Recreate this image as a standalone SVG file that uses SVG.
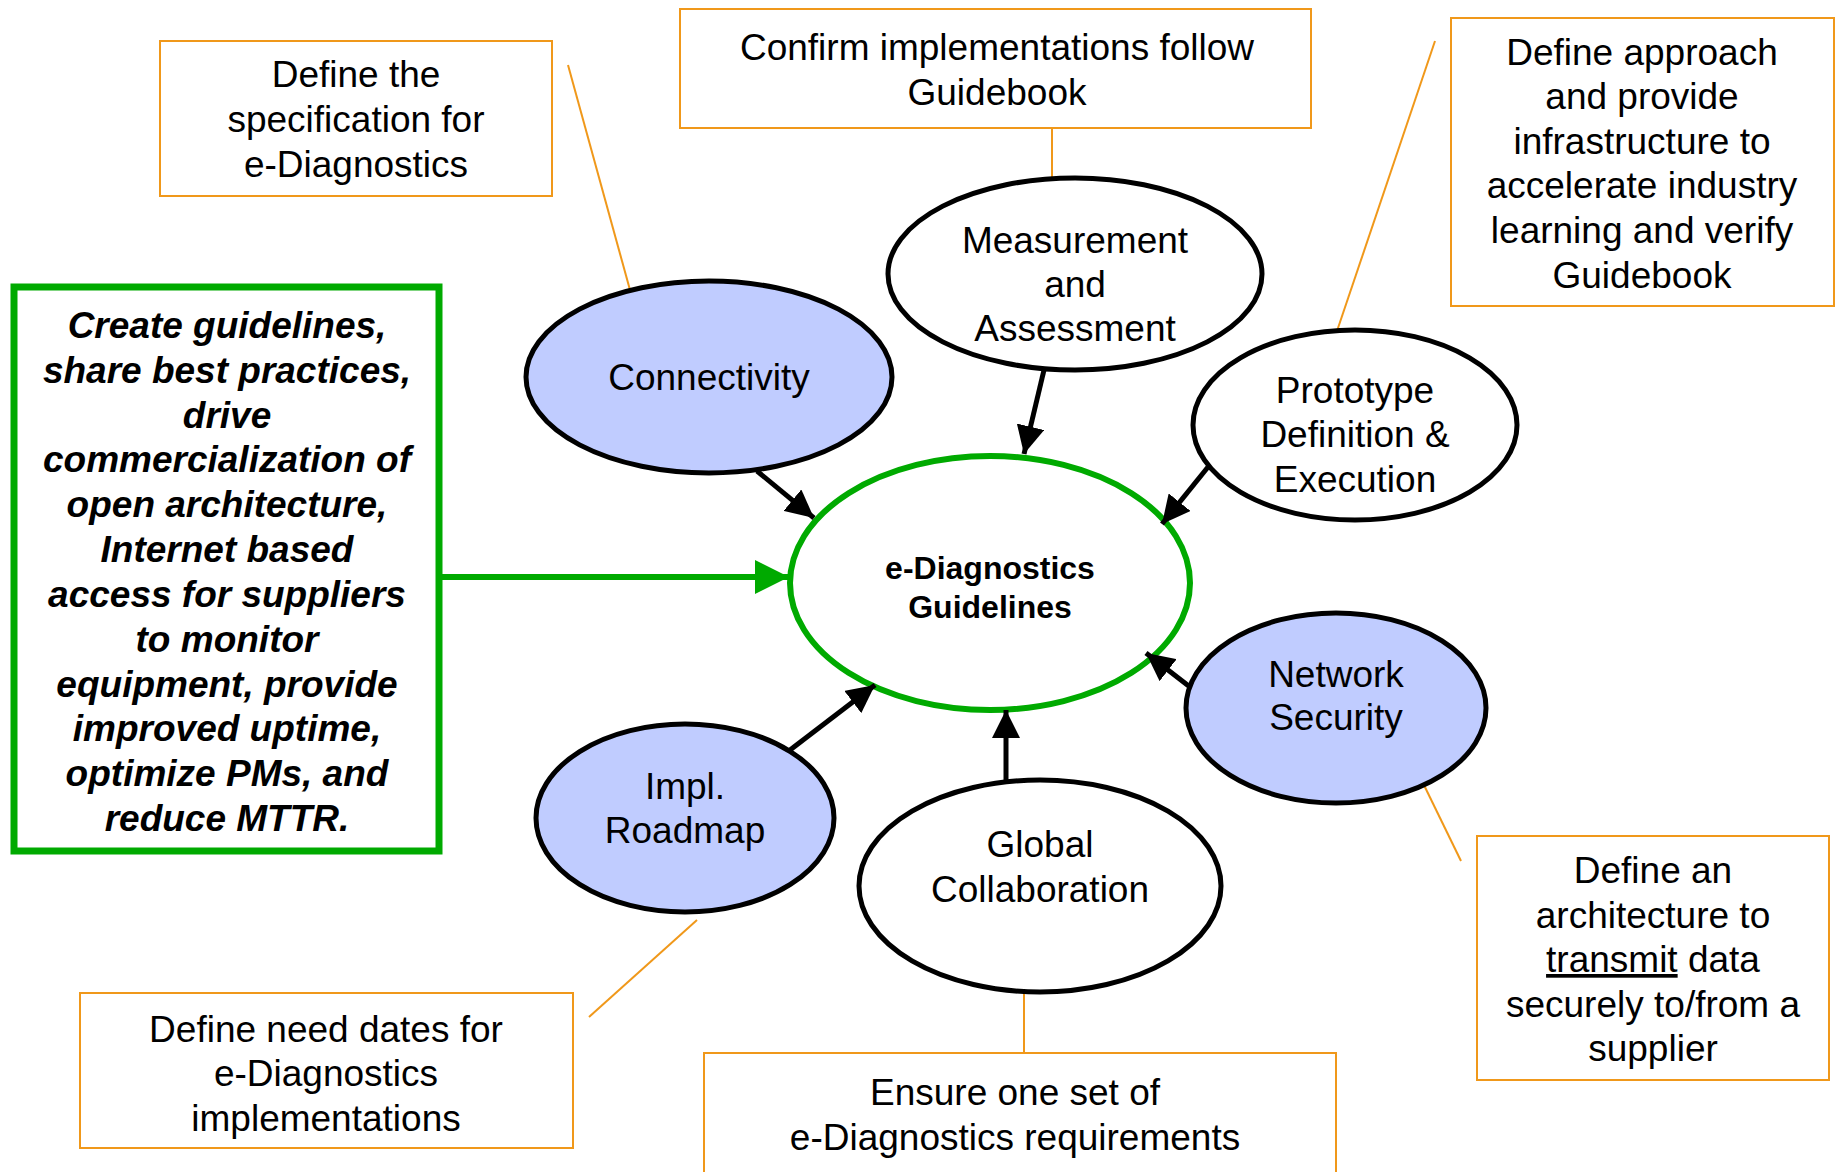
<svg xmlns="http://www.w3.org/2000/svg" width="1841" height="1172" viewBox="0 0 1841 1172">
<style>
text{font-family:"Liberation Sans",Arial,sans-serif;font-size:37px;fill:#000;text-anchor:middle}
.bi{font-weight:bold;font-style:italic}
.b{font-weight:bold;font-size:32px}
.note{fill:#fff;stroke:#F0981A;stroke-width:2}
.lead{stroke:#F0981A;stroke-width:2;fill:none}
.blue{fill:#C0CCFF;stroke:#000;stroke-width:5}
.white{fill:#fff;stroke:#000;stroke-width:5}
.arr{stroke:#000;stroke-width:5;fill:none;marker-end:url(#ah)}
.garr{stroke:#00AA00;stroke-width:6;fill:none;marker-end:url(#gh)}
</style>
<defs>
<marker id="ah" markerUnits="userSpaceOnUse" markerWidth="30" markerHeight="28" refX="28" refY="14" orient="auto">
<path d="M0,0 L28,14 L0,28 Z" fill="#000"/>
</marker>
<marker id="gh" markerUnits="userSpaceOnUse" markerWidth="36" markerHeight="34" refX="34" refY="17" orient="auto">
<path d="M0,0 L34,17 L0,34 Z" fill="#00AA00"/>
</marker>
</defs>
<rect width="1841" height="1172" fill="#fff"/>

<g id="leaders">
<line class="lead" x1="568" y1="65" x2="630" y2="290"/>
<line class="lead" x1="1052" y1="128" x2="1052" y2="180"/>
<line class="lead" x1="1435" y1="41" x2="1337" y2="331"/>
<line class="lead" x1="1461" y1="861" x2="1422" y2="781"/>
<line class="lead" x1="589" y1="1017" x2="697" y2="920"/>
<line class="lead" x1="1024" y1="992" x2="1024" y2="1053"/>
</g>

<g id="note-spec">
<rect class="note" x="160" y="41" width="392" height="155"/>
<text x="356" y="87">Define the</text>
<text x="356" y="132">specification for</text>
<text x="356" y="177">e-Diagnostics</text>
</g>
<g id="note-confirm">
<rect class="note" x="680" y="9" width="631" height="119"/>
<text x="997" y="60">Confirm implementations follow</text>
<text x="997" y="105">Guidebook</text>
</g>
<g id="note-approach">
<rect class="note" x="1451" y="18" width="383" height="288"/>
<text x="1642" y="65">Define approach</text>
<text x="1642" y="109">and provide</text>
<text x="1642" y="154">infrastructure to</text>
<text x="1642" y="198">accelerate industry</text>
<text x="1642" y="243">learning and verify</text>
<text x="1642" y="288">Guidebook</text>
</g>
<g id="note-arch">
<rect class="note" x="1477" y="836" width="352" height="244"/>
<text x="1653" y="883">Define an</text>
<text x="1653" y="928">architecture to</text>
<text x="1653" y="972"><tspan text-decoration="underline">transmit</tspan> data</text>
<text x="1653" y="1017">securely to/from a</text>
<text x="1653" y="1061">supplier</text>
</g>
<g id="note-dates">
<rect class="note" x="80" y="993" width="493" height="155"/>
<text x="326" y="1042">Define need dates for</text>
<text x="326" y="1086">e-Diagnostics</text>
<text x="326" y="1131">implementations</text>
</g>
<g id="note-ensure">
<rect class="note" x="704" y="1053" width="632" height="140"/>
<text x="1015" y="1105">Ensure one set of</text>
<text x="1015" y="1150">e-Diagnostics requirements</text>
</g>

<g id="goal">
<rect x="14" y="287" width="425" height="564" fill="#fff" stroke="#00AA00" stroke-width="7"/>
<text class="bi" x="227" y="338">Create guidelines,</text>
<text class="bi" x="227" y="383">share best practices,</text>
<text class="bi" x="227" y="428">drive</text>
<text class="bi" x="227" y="472">commercialization of</text>
<text class="bi" x="227" y="517">open architecture,</text>
<text class="bi" x="227" y="562">Internet based</text>
<text class="bi" x="227" y="607">access for suppliers</text>
<text class="bi" x="227" y="652">to monitor</text>
<text class="bi" x="227" y="697">equipment, provide</text>
<text class="bi" x="227" y="741">improved uptime,</text>
<text class="bi" x="227" y="786">optimize PMs, and</text>
<text class="bi" x="227" y="831">reduce MTTR.</text>
</g>

<g id="connectivity">
<ellipse class="blue" cx="709" cy="377" rx="183" ry="96"/>
<text x="709" y="390">Connectivity</text>
</g>
<g id="measurement">
<ellipse class="white" cx="1075" cy="274" rx="187" ry="96"/>
<text x="1075" y="253">Measurement</text>
<text x="1075" y="297">and</text>
<text x="1075" y="341">Assessment</text>
</g>
<g id="prototype">
<ellipse class="white" cx="1355" cy="425" rx="162" ry="95"/>
<text x="1355" y="403">Prototype</text>
<text x="1355" y="447">Definition &amp;</text>
<text x="1355" y="492">Execution</text>
</g>
<g id="network">
<ellipse class="blue" cx="1336" cy="708" rx="150" ry="95"/>
<text x="1336" y="687">Network</text>
<text x="1336" y="730">Security</text>
</g>
<g id="global">
<ellipse class="white" cx="1040" cy="886" rx="181" ry="106"/>
<text x="1040" y="857">Global</text>
<text x="1040" y="902">Collaboration</text>
</g>
<g id="roadmap">
<ellipse class="blue" cx="685" cy="818" rx="149" ry="94"/>
<text x="685" y="799">Impl.</text>
<text x="685" y="843">Roadmap</text>
</g>
<g id="center">
<ellipse cx="990" cy="583" rx="200" ry="127" fill="#fff" stroke="#00AA00" stroke-width="6"/>
<text class="b" x="990" y="579">e-Diagnostics</text>
<text class="b" x="990" y="618">Guidelines</text>
</g>

<g id="connectors">
<line class="arr" x1="757" y1="471" x2="814" y2="518"/>
<line class="arr" x1="1044" y1="370" x2="1024" y2="454"/>
<line class="arr" x1="1208" y1="467" x2="1162" y2="524"/>
<line class="arr" x1="1190" y1="687" x2="1146" y2="653"/>
<line class="arr" x1="1006" y1="781" x2="1006" y2="710"/>
<line class="arr" x1="790" y1="750" x2="875" y2="685"/>
<line class="garr" x1="442" y1="577" x2="789" y2="577"/>
</g>
</svg>
